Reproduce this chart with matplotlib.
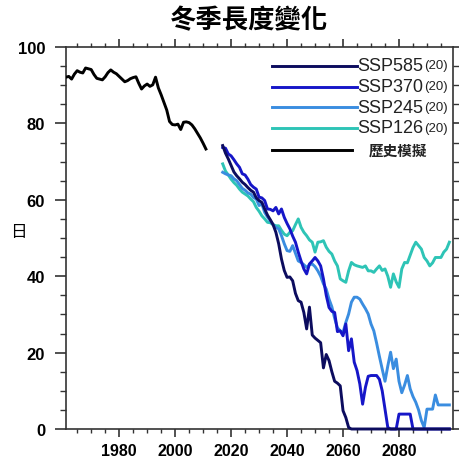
import numpy as np
import matplotlib
matplotlib.use("Agg")
import matplotlib.pyplot as plt
from matplotlib.lines import Line2D
from matplotlib.ticker import MultipleLocator

# ---------------- data ----------------
hist_years = list(range(1961, 2012))
hist_vals = [92.1, 92.3, 91.6, 92.9, 93.8, 93.4, 93.2, 94.5, 94.3, 94.1,
             92.8, 91.8, 91.6, 91.4, 92.2, 93.3, 94.0, 93.4, 93.0, 92.3,
             91.6, 90.9, 91.2, 91.7, 92.0, 92.2, 90.5, 89.0, 89.8, 90.3,
             89.7, 90.1, 92.1, 89.3, 87.5, 85.5, 83.5, 80.5, 79.7, 79.6,
             79.8, 78.4, 80.3, 80.4, 80.2, 79.6, 78.6, 77.4, 76.2, 74.8, 73.3]

ssp_years = list(range(2017, 2099))

ssp585 = [74.2, 72.2, 70.7, 69.0, 67.3, 66.3, 65.5, 64.6, 64.0, 63.2,
          62.5, 62.0, 60.5, 59.8, 59.3, 57.6, 56.0, 54.8, 53.5, 51.5,
          48.5, 44.5, 41.5, 39.7, 39.8, 38.8, 35.5, 33.6, 33.2, 30.5,
          26.2, 31.9, 24.6, 23.8, 23.2, 22.6, 16.0, 19.5, 17.9, 15.0,
          12.5, 12.0, 11.3, 4.8, 3.0, 0.4, 0, 0, 0, 0,
          0, 0, 0, 0, 0, 0, 0, 0, 0, 0,
          0, 0, 0, 0, 0, 0, 0, 0, 0, 0,
          0, 0, 0, 0, 0, 0, 0, 0, 0, 0,
          0, 0]

ssp370 = [73.7, 73.5, 72.0, 71.5, 70.5, 69.4, 68.5, 66.8, 66.5, 65.4,
          64.0, 63.3, 62.8, 60.7, 60.5, 59.8, 57.6, 57.5, 57.1, 58.0,
          56.3, 57.6, 55.4, 53.8, 52.4, 50.5, 48.9, 46.3, 44.0, 41.9,
          40.6, 43.2, 44.0, 44.9, 44.0, 42.7, 39.3, 35.0, 31.8, 30.8,
          30.5, 25.5, 25.7, 24.4, 27.5, 20.5, 23.6, 17.5, 15.3, 11.8,
          6.5, 10.9, 13.8, 14.0, 14.0, 14.0, 13.0, 10.0, 5.2, 0.4,
          0, 0, 0, 3.9, 3.9, 3.9, 3.9, 3.9, 0, 0,
          0, 0, 0, 0, 0, 0, 0, 0, 0, 0,
          0, 0]

ssp245 = [67.2, 66.8, 66.5, 66.3, 65.5, 65.0, 64.0, 63.0, 62.5, 61.8,
          61.5, 60.6, 60.2, 58.5, 58.9, 56.7, 55.5, 54.5, 53.5, 52.8,
          52.4, 50.6, 48.5, 46.7, 46.5, 48.0, 46.0, 44.0, 43.6, 43.0,
          42.3, 43.0, 43.2, 42.5, 41.4, 40.0, 38.0, 36.6, 34.0, 32.0,
          29.0, 26.5, 25.7, 25.3, 27.9, 30.1, 33.2, 34.5, 34.5, 34.0,
          32.7, 31.5, 30.1, 27.5, 25.7, 22.5, 19.0, 15.7, 12.5, 16.5,
          20.1, 15.8, 18.3, 12.5, 9.5, 11.5, 14.0, 10.5, 8.5, 7.0,
          5.0, 2.2, 0.4, 5.2, 5.2, 5.2, 8.9, 6.3, 6.3, 6.3,
          6.3, 6.3]

ssp126 = [69.4, 67.5, 66.5, 65.4, 64.5, 63.8, 62.8, 62.0, 61.5, 61.0,
          60.2, 59.5, 58.0, 57.0, 55.8, 55.0, 54.1, 54.0, 53.5, 53.2,
          53.2, 52.0, 51.0, 50.6, 51.5, 51.9, 53.5, 55.0, 52.8, 51.5,
          50.6, 49.5, 48.9, 46.3, 48.9, 49.0, 49.3, 47.6, 46.5, 45.8,
          44.0, 42.7, 39.3, 38.8, 38.4, 41.4, 43.6, 43.0, 42.7, 42.5,
          42.3, 42.7, 41.4, 41.4, 41.0, 41.9, 42.7, 41.5, 41.9, 40.0,
          37.1, 40.6, 38.5, 37.1, 41.9, 43.6, 43.5, 45.5, 47.5, 48.9,
          48.0, 47.1, 44.9, 44.0, 42.7, 43.5, 44.9, 44.9, 44.9, 46.3,
          47.1, 48.9]

labels = ["SSP585", "SSP370", "SSP245", "SSP126"]
suffix = "(20)"
hist_label = "歷史模擬"
title = "冬季長度變化"
ylabel = "日"

colors = {"SSP585": "#0c0c5e", "SSP370": "#1616c8",
          "SSP245": "#3a8de0", "SSP126": "#2ec4b6"}
series = {"SSP585": ssp585, "SSP370": ssp370, "SSP245": ssp245, "SSP126": ssp126}

# ---------------- figure ----------------
W, H = 459, 464
fig = plt.figure(figsize=(W / 100, H / 100), dpi=100)
L, R, T, B = 66, 453, 48, 430
ax = fig.add_axes([L / W, 1 - B / H, (R - L) / W, (B - T) / H])

lw = 2.1
for name in ["SSP126", "SSP245", "SSP370", "SSP585"]:
    ax.plot(ssp_years, series[name], color=colors[name], lw=lw,
            solid_joinstyle="round", zorder=3, clip_on=False)
ax.plot(hist_years, hist_vals, color="black", lw=lw, zorder=3)

ax.set_xlim(1961, 2099.3)
ax.set_ylim(0, 100)
ax.xaxis.set_major_locator(MultipleLocator(20))
ax.xaxis.set_minor_locator(MultipleLocator(5))
ax.yaxis.set_major_locator(MultipleLocator(20))
ax.yaxis.set_minor_locator(MultipleLocator(5))
ax.set_xticks([1980, 2000, 2020, 2040, 2060, 2080])

ax.tick_params(axis="both", which="both", direction="out", color="#333333",
               top=True, right=True, labeltop=False, labelright=False)
ax.tick_params(axis="y", which="major", length=8, width=1.2, pad=7)
ax.tick_params(axis="y", which="minor", length=4, width=1.0)
ax.tick_params(axis="x", which="major", length=6, width=1.2, pad=4)
ax.tick_params(axis="x", which="minor", length=3, width=1.0)
for lab in ax.get_yticklabels():
    lab.set_fontfamily("Liberation Sans")
    lab.set_fontweight("bold")
    lab.set_fontsize(12)
for lab in ax.get_xticklabels():
    lab.set_fontfamily("Liberation Sans")
    lab.set_fontweight("bold")
    lab.set_fontsize(11.5)
for sp in ax.spines.values():
    sp.set_color("#333333")
    sp.set_linewidth(1.2)

# ---------------- legend (drawn manually) ----------------
row_y = [0.951, 0.896, 0.842, 0.788, 0.731]
x0, x1 = 0.532, 0.752
for i, name in enumerate(labels):
    ax.add_line(Line2D([x0, x1], [row_y[i], row_y[i]], transform=ax.transAxes,
                       color=colors[name], lw=lw, clip_on=False, zorder=4))
    t = ax.text(x1, row_y[i], name, transform=ax.transAxes, ha="left",
                va="center", fontsize=13, family="Liberation Sans",
                color="#222222", zorder=5)
    ax.annotate(suffix, xy=(1.02, 0.88), xycoords=t, ha="left", va="top",
                fontsize=9.5, family="Liberation Sans", color="#222222")
ax.add_line(Line2D([x0, 0.739], [row_y[4], row_y[4]], transform=ax.transAxes,
                   color="black", lw=lw, clip_on=False, zorder=4))
ax.text(0.858, row_y[4], hist_label, transform=ax.transAxes, ha="center",
        va="center", fontsize=10.5, family=["Noto Sans CJK TC", "DejaVu Sans"],
        weight="bold", color="#222222")

# ---------------- titles ----------------
fig.text(249 / W, 1 - 21 / H, title, ha="center", va="center", fontsize=19,
         family=["Noto Sans CJK TC", "DejaVu Sans"], weight="bold")
fig.text(18 / W, 1 - 233 / H, ylabel, ha="center", va="center", fontsize=12,
         family=["Noto Sans CJK TC", "DejaVu Sans"])

fig.savefig("out.png", dpi=100)
